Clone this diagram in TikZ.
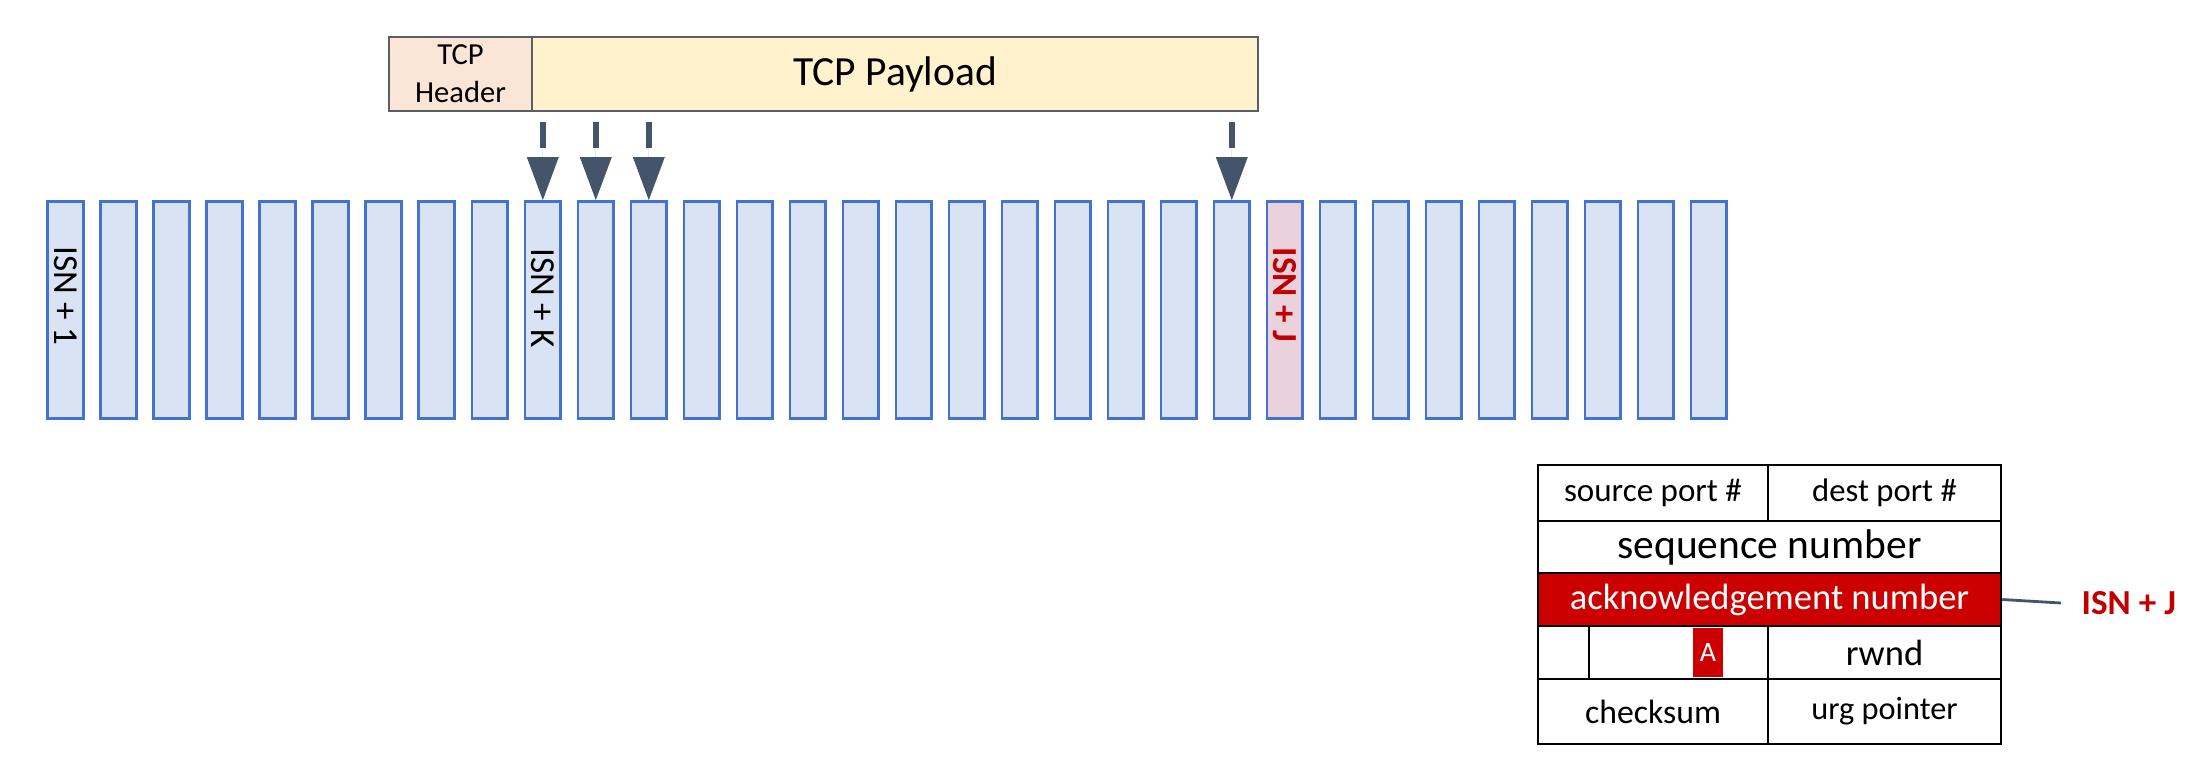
\documentclass[tikz,border=0pt]{standalone}
\usepackage{fontspec}
\setmainfont{Carlito}
\usetikzlibrary{arrows.meta,positioning}

\definecolor{clrHeader}{HTML}{FBE5D6}
\definecolor{clrPayload}{HTML}{FFF2CC}
\definecolor{clrBoxBorder}{HTML}{5A5F66}
\definecolor{clrSlot}{HTML}{DAE3F3}
\definecolor{clrSlotBorder}{HTML}{4472D0}
\definecolor{clrPink}{HTML}{EAD1DC}
\definecolor{clrRed}{HTML}{C00000}
\definecolor{clrAckRed}{HTML}{CC0000}
\definecolor{clrArrow}{HTML}{44546A}

\tikzstyle{box_style0}=[draw=clrBoxBorder, line width=0.8pt, inner sep=0pt, anchor=center, text centered]
\tikzstyle{header_box}=[box_style0, fill=clrHeader, minimum width=14.3mm, minimum height=7.4mm, align=center, font=\fontsize{8.7}{10.8}\selectfont]
\tikzstyle{payload_box}=[box_style0, fill=clrPayload, minimum width=72.6mm, minimum height=7.4mm, font=\fontsize{11.8}{14}\selectfont]
\tikzstyle{slot}=[draw=clrSlotBorder, line width=0.8pt, fill=clrSlot, minimum width=3.58mm, minimum height=21.7mm, inner sep=0pt]
\tikzstyle{slot_acked}=[slot, fill=clrPink]
\tikzstyle{slot_label}=[rotate=-90, inner sep=0pt, font=\fontsize{10}{12}\selectfont]
\tikzstyle{myarrow}=[draw=clrArrow, line width=1.7pt, dash pattern=on 2.6mm off 1.9mm, -{Triangle[length=4.3mm, width=3.2mm, line width=0pt]}, fill=clrArrow]
\tikzstyle{seg_cell}=[draw=black, line width=0.7pt, inner sep=0pt, anchor=center]
\tikzstyle{ack_cell}=[seg_cell, fill=clrAckRed, text=white]
\tikzstyle{flag_box}=[fill=clrAckRed, text=white, inner sep=0pt, minimum width=3mm, minimum height=4.9mm, font=\fontsize{8}{9}\selectfont]
\tikzstyle{ack_value}=[text=clrRed, inner sep=1mm, font=\bfseries\fontsize{10}{12}\selectfont]

\begin{document}
\begin{tikzpicture}[x=0.1mm, y=-0.1mm]
	\useasboundingbox (0,0) rectangle (2209,775);

	% segment to send
	\node[header_box] (header) at (460.5,74) {TCP\\Header};
	\node[payload_box] (payload) at (895,74) {TCP Payload};

	% byte stream
	\foreach \i in {1,...,23,25,26,...,32}
		\node[slot] (b\i) at ({65.8+53*(\i-1)},310) {};
	\node[slot_acked] (b24) at ({65.8+53*23},310) {};

	\node[slot_label] (isn1) at ([yshift=1.4mm]b1.center) {ISN + 1};
	\node[slot_label] (isnk) at ([yshift=1.2mm]b10.center) {ISN + K};
	\node[slot_label, text=clrRed, font=\bfseries\fontsize{10}{12}\selectfont] (isnj) at ([yshift=1.5mm]b24.center) {ISN + J};

	\foreach \b in {10,11,12,23}
		\draw[myarrow] ([yshift=-1mm]payload.south -| b\b.north) -- (b\b.north);

	% TCP segment fields
	\node[seg_cell, minimum width=23mm, minimum height=5.6mm, font=\fontsize{9.4}{11}\selectfont] (src) at (1653,493) {source port \#};
	\node[seg_cell, minimum width=23.3mm, minimum height=5.6mm, font=\fontsize{9.3}{11}\selectfont] (dst) at (1884.5,493) {dest port \#};
	\node[seg_cell, minimum width=46.3mm, minimum height=5.2mm, font=\fontsize{11.8}{14}\selectfont] (seq) at (1769.5,547) {sequence number};
	\node[ack_cell, minimum width=46.3mm, minimum height=5.3mm, font=\fontsize{10.4}{12}\selectfont] (ack) at (1769.5,599.5) {acknowledgement number};
	\node[seg_cell, minimum width=5.1mm, minimum height=5.3mm] (flg1) at (1563.5,652.5) {};
	\node[seg_cell, minimum width=17.9mm, minimum height=5.3mm] (flg2) at (1678.5,652.5) {};
	\node[flag_box] (flgA) at (1708,652.5) {A};
	\node[seg_cell, minimum width=23.3mm, minimum height=5.3mm, font=\fontsize{10.4}{12}\selectfont] (rwnd) at (1884.5,652.5) {rwnd};
	\node[seg_cell, minimum width=23mm, minimum height=6.5mm, font=\fontsize{9.6}{11}\selectfont] (chk) at (1653,711.5) {checksum};
	\node[seg_cell, minimum width=23.3mm, minimum height=6.5mm, font=\fontsize{9.2}{11}\selectfont] (urg) at (1884.5,711.5) {urg pointer};

	\node[ack_value, anchor=west] (ackval) at (2071,603) {ISN + J};
	\draw[clrArrow, line width=0.8pt] (ack.east) -- ([xshift=-1mm]ackval.west);
\end{tikzpicture}
\end{document}
